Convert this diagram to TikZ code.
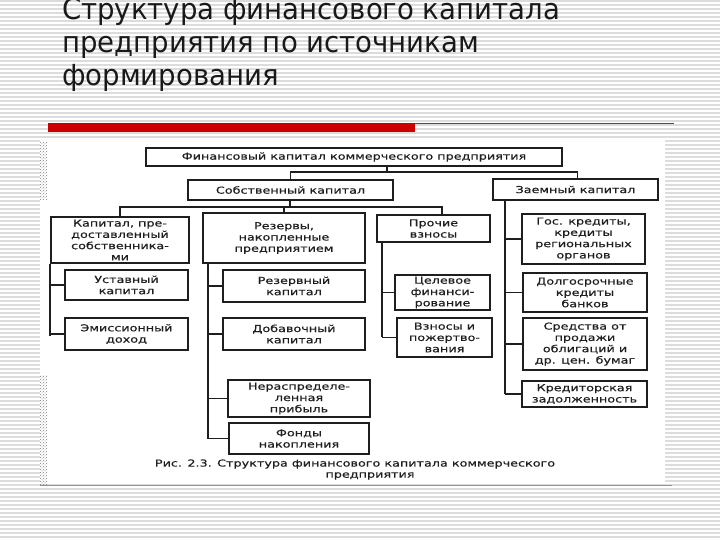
\documentclass[tikz,border=0pt]{standalone}
\usepackage{fontspec}
\setmainfont{DejaVu Sans}
\newfontfamily\titlefont[FakeStretch=0.95]{DejaVu Sans}
\newfontfamily\scanfont[FakeStretch=1.33,FakeBold=0.4]{DejaVu Sans}
\usetikzlibrary{patterns}
\definecolor{stripe}{HTML}{DCDCDC}
\definecolor{barred}{HTML}{CC0000}
\definecolor{thinred}{HTML}{9A2A2A}
\definecolor{scanink}{HTML}{1E1E1E}
\tikzset{
  stripeline/.style={draw=stripe, line width=1.3pt},
  box/.style={draw=scanink, line width=1.3pt, inner sep=0pt, align=center,
    font=\scanfont\fontsize{9.6}{11.3}\selectfont, text=scanink},
  conn/.style={draw=scanink, line width=1.2pt},
  titletext/.style={anchor=base west, inner sep=0pt, text=black!90,
    font=\titlefont\fontsize{29}{33}\selectfont},
  captext/.style={inner sep=0pt, text=scanink, font=\scanfont\fontsize{9.6}{11.3}\selectfont}
}
\newcommand{\bx}[7]{% name, x1, y1, x2, y2, text, extra
  \node[box, minimum width={#4-#2}, minimum height={#5-#3}, #7] (#1) at ({(#2+#4)/2},{(#3+#5)/2}) {#6};}
\begin{document}
\begin{tikzpicture}[x=1pt,y=-1pt]
\useasboundingbox (0,0) rectangle (720,540);
\fill[white] (0,0) rectangle (720,540);
\foreach \yy in {1,5,...,540} \draw[stripeline] (0,\yy) -- (720,\yy);
% scanned white area
\fill[white] (40,140) rectangle (665,484);
\fill[pattern=crosshatch dots, pattern color=gray] (40,142) rectangle (47,200);
\fill[pattern=crosshatch dots, pattern color=gray] (40,375) rectangle (47,484);
% title
\node[titletext] (t1) at (62,20) {Структура финансового капитала};
\node[titletext] (t2) at (62,53) {предприятия по источникам};
\node[titletext] (t3) at (62,86) {формирования};
% red bars
\fill[barred] (48,123) rectangle (415,132);
\draw[thinred, line width=1pt] (415,123.5) -- (674,123.5);
\draw[red!60!white, line width=1pt] (40,485.5) -- (672,485.5);
% boxes
\bx{top}{146}{148}{562}{166}{Финансовый капитал коммерческого предприятия}{}
\bx{own}{188}{180}{393}{200}{Собственный капитал}{}
\bx{loan}{493}{179}{658}{200}{Заемный капитал}{}
\bx{kap}{51}{217}{189}{263}{Капитал, пре-\\доставленный\\собственника-\\ми}{}
\bx{res}{203}{213}{365}{263}{Резервы,\\накопленные\\предприятием}{}
\bx{pro}{377}{215}{490}{242}{Прочие\\взносы}{}
\bx{gos}{522}{214}{645}{264}{Гос. кредиты,\\кредиты\\региональных\\органов}{}
\bx{ust}{65}{270}{188}{300}{Уставный\\капитал}{}
\bx{emi}{65}{318}{188}{350}{Эмиссионный\\доход}{}
\bx{rez}{223}{270}{365}{302}{Резервный\\капитал}{}
\bx{dob}{223}{318}{365}{350}{Добавочный\\капитал}{}
\bx{ner}{228}{380}{370}{417}{Нераспределе-\\ленная\\прибыль}{}
\bx{fon}{229}{423}{369}{454}{Фонды\\накопления}{}
\bx{cel}{395}{275}{490}{310}{Целевое\\финанси-\\рование}{}
\bx{vzn}{397}{318}{492}{357}{Взносы и\\пожертво-\\вания}{}
\bx{dol}{523}{273}{647}{312}{Долгосрочные\\кредиты\\банков}{}
\bx{sre}{523}{318}{647}{370}{Средства от\\продажи\\облигаций и\\др. цен. бумаг}{}
\bx{kre}{522}{381}{647}{407}{Кредиторская\\задолженность}{}
% caption
\node[captext] (cap1) at (355,464) {Рис. 2.3. Структура финансового капитала коммерческого};
\node[captext] (cap2) at (370,476) {предприятия};
% connectors: level 1
\coordinate (b1) at (387,172);
\draw[conn] (top.south -| b1) -- (b1);
\draw[conn] (own.north) |- (b1) -| ([xshift=85pt]loan.north west);
% level 2 own
\coordinate (b2) at (290,207);
\draw[conn] (own.south -| b2) -- (b2);
\draw[conn] (kap.north) |- (b2) -| (pro.north west -| 442,0);
\draw[conn] (res.north) -- (res.north |- b2);
% left bus
\coordinate (lb) at (50,336);
\draw[conn] (kap.south -| lb) -- (lb);
\draw[conn] (lb |- ust) -- (ust.west);
\draw[conn] (lb |- emi) -- (emi.west);
% reserve bus
\coordinate (rb) at (208,439);
\draw[conn] (res.south -| rb) -- (rb);
\draw[conn] (rb |- rez) -- (rez.west);
\draw[conn] (rb |- dob) -- (dob.west);
\draw[conn] (rb |- ner) -- (ner.west);
\draw[conn] (rb |- fon) -- (fon.west);
% other contributions bus
\coordinate (pb) at (382,337);
\draw[conn] (pro.south -| pb) -- (pb);
\draw[conn] (pb |- cel) -- (cel.west);
\draw[conn] (pb |- vzn) -- (vzn.west);
% loan bus
\coordinate (zb) at (505,394);
\draw[conn] (loan.south -| zb) -- (zb);
\draw[conn] (zb |- gos) -- (gos.west);
\draw[conn] (zb |- dol) -- (dol.west);
\draw[conn] (zb |- sre) -- (sre.west);
\draw[conn] (zb |- kre) -- (kre.west);
\end{tikzpicture}
\end{document}
